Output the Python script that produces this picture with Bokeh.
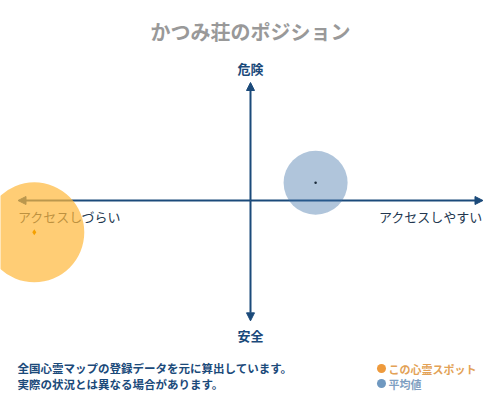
from bokeh.plotting import figure
from bokeh.models import Range1d, Label, Arrow, NormalHead
from bokeh.embed import file_html
from bokeh.resources import INLINE

# ---- data ----
title_text = "かつみ荘のポジション"
y_axis_labels = ["危険", "安全"]            # top, bottom
x_axis_labels = ["アクセスしづらい", "アクセスしやすい"]  # left, right
series_names = ["この心霊スポット", "平均値"]
spot_x = [-0.93]
spot_y = [-0.27]
avg_x = [0.28]
avg_y = [0.15]
notes = ["全国心霊マップの登録データを元に算出しています。",
         "実際の状況とは異なる場合があります。"]

FONT = "Noto Sans CJK JP"
NAVY = "#1b4a7a"

W, H = 500, 400
X0, X1 = -1.0753, 1.0753
Y0, Y1 = -1.695, 1.695
p = figure(width=W, height=H, output_backend="svg", toolbar_location=None,
           min_border=0, x_range=Range1d(X0, X1), y_range=Range1d(Y0, Y1))
p.axis.visible = False
p.grid.visible = False
p.outline_line_color = None
p.background_fill_color = "white"


def sx(px):
    return X0 + px * (X1 - X0) / W


def sy(py):
    return Y0 + py * (Y1 - Y0) / H


# axes arrows (under glyphs)
for xe, ye in [(1.0, 0), (-1.0, 0), (0, 1.0), (0, -1.02)]:
    p.add_layout(Arrow(x_start=0, y_start=0, x_end=xe, y_end=ye, line_color=NAVY, line_width=2,
                       end=NormalHead(size=8, fill_color=NAVY, line_color=NAVY), level="underlay"))

# axis end labels
p.add_layout(Label(x=0, y=1.12, text=y_axis_labels[0], text_font=FONT, text_font_size="13px",
                   text_font_style="bold", text_color=NAVY, text_align="center",
                   text_baseline="middle", level="underlay"))
p.add_layout(Label(x=0, y=-1.145, text=y_axis_labels[1], text_font=FONT, text_font_size="13px",
                   text_font_style="bold", text_color=NAVY, text_align="center",
                   text_baseline="middle", level="underlay"))
p.add_layout(Label(x=-1.0, y=-0.136, text=x_axis_labels[0], text_font=FONT, text_font_size="13px",
                   text_color="#23374f", text_align="left", text_baseline="middle", level="underlay"))
p.add_layout(Label(x=1.0, y=-0.136, text=x_axis_labels[1], text_font=FONT, text_font_size="13px",
                   text_color="#23374f", text_align="right", text_baseline="middle", level="underlay"))

# average
p.scatter(avg_x, avg_y, marker="circle", size=64, fill_color="#3a6ea5", fill_alpha=0.4, line_color=None)
p.scatter(avg_x, avg_y, marker="circle", size=2.5, fill_color="#1a2a3a", line_color=None)
# this spot
p.scatter(spot_x, spot_y, marker="circle", size=100, fill_color="#FFB83A", fill_alpha=0.7, line_color=None)
p.scatter(spot_x, spot_y, marker="diamond", size=6, fill_color="#F5A000", line_color=None)

# title
p.add_layout(Label(x=250, y=369, x_units="screen", y_units="screen", text=title_text,
                   text_font=FONT, text_font_size="20px", text_font_style="bold",
                   text_color="#999999", text_align="center", text_baseline="middle"))

# notes
for i, t in enumerate(notes):
    p.add_layout(Label(x=17, y=33 - 16 * i, x_units="screen", y_units="screen", text=t,
                       text_font=FONT, text_font_size="11.5px", text_font_style="bold",
                       text_color=NAVY, text_align="left", text_baseline="middle"))

# legend
leg_marker_colors = ["#EE9A3C", "#6F98C0"]
leg_text_colors = ["#E3A256", "#7F9FC2"]
for i, name in enumerate(series_names):
    yy = 32 - 15 * i
    p.scatter([sx(381)], [sy(yy)], marker="circle", size=9, fill_color=leg_marker_colors[i],
              line_color=None)
    p.add_layout(Label(x=388, y=yy, x_units="screen", y_units="screen", text=name,
                       text_font=FONT, text_font_size="11px", text_font_style="bold",
                       text_color=leg_text_colors[i], text_align="left", text_baseline="middle"))

open("out.html", "w").write(file_html(p, INLINE))
